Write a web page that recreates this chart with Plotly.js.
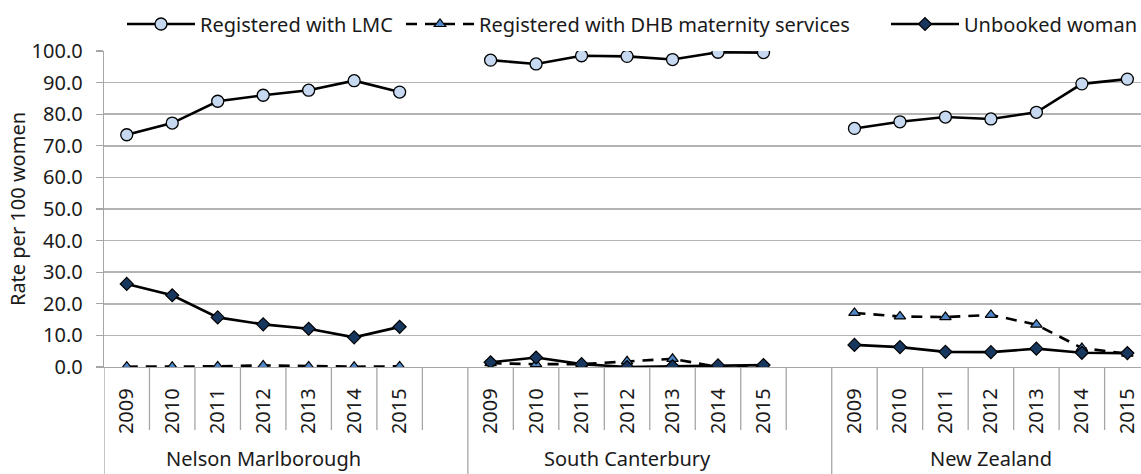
<!DOCTYPE html>
<html>
<head>
<meta charset="utf-8">
<script src="https://cdn.plot.ly/plotly-3.0.1.min.js"></script>
<style>html,body{margin:0;padding:0;background:#fff;}#chart{width:1141px;height:474px;}</style>
</head>
<body>
<div id="chart"></div>
<script>
// ---- data ----
var regions = ["Nelson Marlborough", "South Canterbury", "New Zealand"];
var years = ["2009", "2010", "2011", "2012", "2013", "2014", "2015"];
var seriesNames = ["Registered with LMC", "Registered with DHB maternity services", "Unbooked woman"];

var lmcNelson = [73.5, 77.2, 84.1, 86.0, 87.6, 90.6, 87.0];
var lmcSouth = [97.1, 95.9, 98.5, 98.3, 97.3, 99.6, 99.5];
var lmcNZ = [75.5, 77.6, 79.1, 78.5, 80.6, 89.6, 91.1];

var dhbNelson = [0.1, 0.1, 0.2, 0.5, 0.2, 0.1, 0.2];
var dhbSouth = [1.2, 0.9, 0.9, 1.8, 2.6, 0.0, 0.0];
var dhbNZ = [17.1, 16.0, 15.8, 16.5, 13.4, 6.0, 4.2];

var unbNelson = [26.3, 22.7, 15.7, 13.5, 12.1, 9.4, 12.7];
var unbSouth = [1.5, 3.0, 0.9, 0.0, 0.2, 0.5, 0.6];
var unbNZ = [7.0, 6.3, 4.8, 4.7, 5.8, 4.5, 4.4];

// ---- build ----
var slot = years.length + 1; // one blank category between regions
function flatten(groups) {
  var xs = [], ys = [];
  groups.forEach(function (vals, g) {
    vals.forEach(function (v, j) { xs.push(g * slot + j); ys.push(v); });
    if (g < groups.length - 1) { xs.push(g * slot + years.length); ys.push(null); }
  });
  return {x: xs, y: ys};
}
var lmc = flatten([lmcNelson, lmcSouth, lmcNZ]);
var dhb = flatten([dhbNelson, dhbSouth, dhbNZ]);
var unb = flatten([unbNelson, unbSouth, unbNZ]);

var traces = [
  {x: lmc.x, y: lmc.y, name: seriesNames[0], type: "scatter", mode: "lines+markers", legend: "legend",
   line: {color: "#000", width: 2.6}, connectgaps: false,
   marker: {symbol: "circle", size: 12, color: "#c6d9f1", line: {color: "#000", width: 1.3}}},
  {x: dhb.x, y: dhb.y, name: seriesNames[1], type: "scatter", mode: "lines+markers", legend: "legend2",
   line: {color: "#000", width: 2.6, dash: "11px,8px"}, connectgaps: false,
   marker: {symbol: "triangle-up", size: 10, color: "#4f86c6", line: {color: "#000", width: 1.2}}},
  {x: unb.x, y: unb.y, name: seriesNames[2], type: "scatter", mode: "lines+markers", legend: "legend3",
   line: {color: "#000", width: 2.6}, connectgaps: false,
   marker: {symbol: "diamond", size: 10, color: "#17375e", line: {color: "#000", width: 1.2}}}
];

var tickvals = [], ticktext = [];
regions.forEach(function (r, g) {
  years.forEach(function (yr, j) { tickvals.push(g * slot + j); ticktext.push(yr); });
});

var plotH = 474 - 51 - 107;
function py(px) { return -(px - (474 - 107)) / plotH; } // paper y from pixel below the axis

var fontFam = "Noto Sans, Open Sans, sans-serif";
var txtCol = "#1a1a1a";
var shapes = [];
var annotations = [];
var gridGrey = "#b4b4b4";
regions.forEach(function (r, g) {
  shapes.push({type: "line", xref: "x", yref: "paper", x0: g * slot - 0.5, x1: g * slot - 0.5,
    y0: 0, y1: py(476), line: {color: "#a6a6a6", width: 1.3}});
  for (var k = 1; k <= years.length; k++) {
    var xb = g * slot + k - 0.5;
    shapes.push({type: "line", xref: "x", yref: "paper", x0: xb, x1: xb,
      y0: 0, y1: py(430), line: {color: "#a6a6a6", width: 1.3}});
  }
  annotations.push({xref: "x", yref: "paper", x: g * slot + (years.length - 1) / 2, y: py(458),
    text: r, showarrow: false, xanchor: "center", yanchor: "middle",
    font: {family: fontFam, size: 20, color: txtCol}});
});

function legendAt(px) {
  return {orientation: "h", xref: "container", yref: "container", x: px / 1141, y: 1 - 24 / 474,
    xanchor: "left", yanchor: "middle", bgcolor: "rgba(0,0,0,0)", itemwidth: 68,
    font: {family: fontFam, size: 20, color: txtCol}};
}

var layout = {
  width: 1141, height: 474,
  margin: {l: 104, r: 0, t: 51, b: 107},
  paper_bgcolor: "#fff", plot_bgcolor: "#fff",
  font: {family: fontFam, size: 20, color: txtCol},
  showlegend: true,
  legend: legendAt(122),
  legend2: legendAt(401),
  legend3: legendAt(886),
  xaxis: {range: [-0.5, 22.3], tickmode: "array", tickvals: tickvals, ticktext: ticktext,
    tickangle: -90, ticks: "", showgrid: false, zeroline: false, showline: true,
    linecolor: "#a6a6a6", linewidth: 1.3, ticklabelstandoff: 12, ticklabeloverflow: "allow",
    tickfont: {family: fontFam, size: 20, color: txtCol}, fixedrange: true},
  yaxis: {range: [0, 100], dtick: 10, tickformat: ".1f", showgrid: true, gridcolor: gridGrey, gridwidth: 1.6,
    zeroline: false, showline: true, linecolor: "#a6a6a6", linewidth: 1.3, ticks: "outside", ticklen: 7,
    tickcolor: "#a6a6a6", tickwidth: 1.3, ticklabelstandoff: 9,
    tickfont: {family: fontFam, size: 20, color: txtCol},
    title: {text: "Rate per 100 women", font: {family: fontFam, size: 20, color: txtCol}, standoff: 0},
    fixedrange: true},
  shapes: shapes,
  annotations: annotations
};

Plotly.newPlot("chart", traces, layout, {displayModeBar: false, staticPlot: true});
</script>
</body>
</html>
